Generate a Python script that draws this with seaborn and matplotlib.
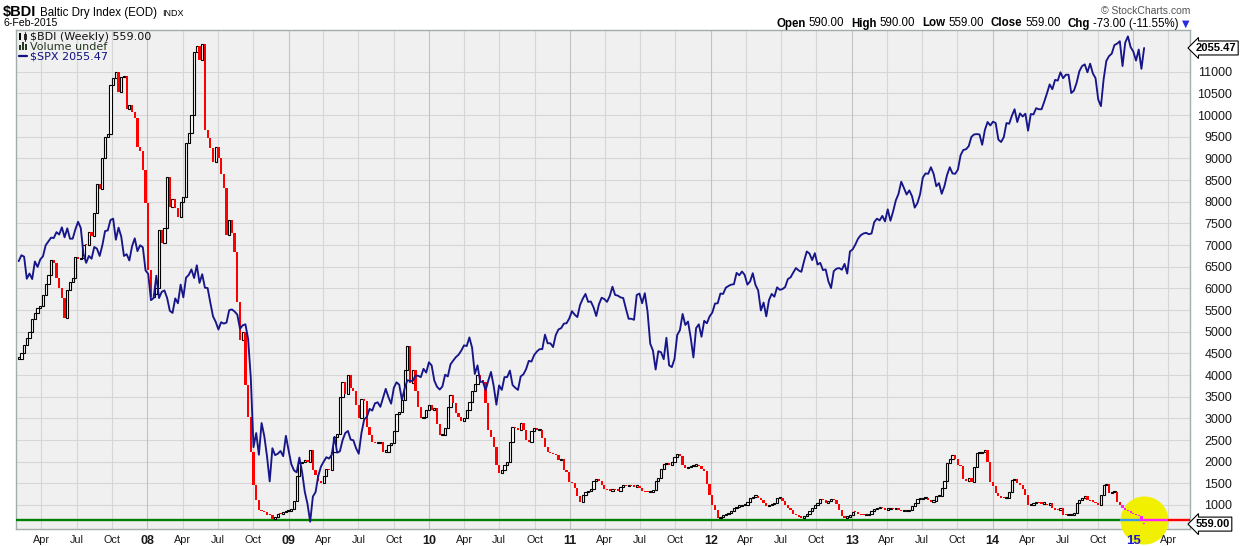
import numpy as np
import pandas as pd
import matplotlib
matplotlib.use("Agg")
import matplotlib.pyplot as plt
import matplotlib.dates as mdates
import matplotlib.transforms as mtransforms
from matplotlib.patches import Rectangle
from matplotlib.lines import Line2D
import seaborn as sns

# ---------------- data (weekly closes, week ending Friday) ----------------
first_week = "2007-02-09"

bdi_2007 = [4380, 4500, 4700, 4850, 5000, 5300, 5420, 5550, 5600, 5850,
            6100, 6300, 6650, 6580, 6230, 6000, 5770, 5310, 5960, 6150,
            6250, 6730, 6680, 6700, 7000, 6990, 7300, 7200, 7730, 8400,
            8300, 9000, 9500, 9570, 10700, 10850, 11000, 10540, 10880, 10900,
            10150, 10230, 10080, 9920, 9270, 9180, 8730]
bdi_2008 = [7960, 6420, 5810, 5870, 6000, 7350, 7040, 7400, 8580, 7880,
            8060, 7850, 7650, 8000, 8100, 9350, 9580, 10000, 11460, 11600,
            11270, 11650, 9650, 9460, 9230, 8920, 9270, 9000, 8650, 8310,
            7230, 7580, 7270, 6850, 5690, 4810, 5000, 3770, 3040, 2230,
            1460, 1120, 890, 850, 830, 770, 760, 670, 720, 800,
            790, 830]
bdi_2009 = [850, 870, 900, 1100, 1660, 1960, 2000, 2040, 2000, 2280,
            1810, 1700, 1550, 1500, 1660, 1840, 1800, 2230, 2580, 2650,
            3500, 3850, 3560, 4000, 3700, 3620, 3300, 3000, 3450, 3390,
            2810, 2620, 2460, 2420, 2420, 2450, 2230, 2230, 2380, 2430,
            2700, 3100, 3150, 3420, 4120, 4660, 3810, 4120, 3620, 3270,
            3000, 3040]
bdi_2010 = [3190, 3310, 3200, 3230, 2880, 2620, 2620, 2770, 3270, 3540,
            3350, 3120, 3040, 2950, 3000, 3190, 3380, 3620, 3800, 4000,
            3880, 3850, 3350, 2730, 2580, 2350, 1930, 1730, 1800, 1930,
            2000, 2460, 2800, 2780, 2720, 2900, 2730, 2500, 2460, 2700,
            2770, 2730, 2740, 2540, 2350, 2230, 2190, 2180, 2150, 2040,
            2050, 1810, 1770]
bdi_2011 = [1540, 1500, 1390, 1200, 1080, 1230, 1300, 1330, 1380, 1560,
            1580, 1560, 1470, 1380, 1340, 1330, 1360, 1350, 1330, 1420,
            1450, 1430, 1440, 1430, 1420, 1440, 1390, 1330, 1300, 1290,
            1290, 1340, 1560, 1620, 1830, 1950, 1960, 1920, 2000, 2100,
            2170, 2120, 1930, 1850, 1880, 1900, 1910, 1930, 1890, 1830,
            1780, 1480]
bdi_2012 = [1220, 1000, 880, 690, 720, 760, 790, 810, 850, 920,
            960, 980, 1000, 1000, 1080, 1150, 1190, 1200, 1170, 1120,
            1040, 980, 990, 1020, 1040, 1150, 1160, 1090, 1010, 930,
            880, 790, 760, 730, 710, 740, 790, 870, 930, 1000,
            1050, 1140, 1110, 1040, 1100, 1130, 1110, 1020, 880, 740,
            710, 730]
bdi_2013 = [770, 840, 830, 800, 770, 760, 770, 800, 850, 900,
            930, 960, 920, 890, 910, 920, 900, 900, 890, 850,
            850, 860, 890, 980, 1050, 1130, 1140, 1150, 1150, 1120,
            1080, 1100, 1200, 1200, 1390, 1550, 1960, 2070, 2150, 2050,
            1930, 1900, 1600, 1550, 1620, 1540, 1880, 2190, 2200, 2230,
            2280, 2000]
bdi_2014 = [1540, 1440, 1280, 1210, 1160, 1150, 1160, 1300, 1580, 1600,
            1500, 1460, 1380, 1230, 1000, 1010, 1040, 1060, 1040, 1030,
            1030, 1000, 1040, 940, 890, 880, 920, 780, 770, 770,
            770, 810, 1040, 1120, 1160, 1200, 1120, 1090, 1080, 1040,
            1000, 1230, 1460, 1480, 1280, 1290, 1300, 1080, 1000, 930,
            880, 850]
bdi_2015 = [810, 790, 760, 740, 632, 559]

spx_2007 = [1438, 1455, 1451, 1387, 1402, 1386, 1437, 1421, 1443, 1452,
            1484, 1495, 1506, 1505, 1522, 1515, 1536, 1507, 1533, 1503,
            1503, 1530, 1552, 1534, 1459, 1433, 1453, 1445, 1479, 1474,
            1453, 1484, 1525, 1527, 1557, 1561, 1500, 1535, 1509, 1453,
            1458, 1440, 1481, 1504, 1467, 1484, 1478]
spx_2008 = [1411, 1401, 1325, 1331, 1396, 1331, 1349, 1353, 1331, 1294,
            1288, 1330, 1316, 1370, 1333, 1390, 1398, 1414, 1389, 1426,
            1375, 1400, 1361, 1360, 1318, 1278, 1262, 1240, 1261, 1257,
            1260, 1296, 1298, 1292, 1283, 1242, 1252, 1255, 1213, 1099,
            899, 940, 877, 969, 931, 873, 800, 896, 876, 880,
            888, 873]
spx_2009 = [932, 890, 850, 832, 826, 869, 827, 770, 735, 683,
            756, 769, 816, 843, 857, 870, 866, 877, 929, 883,
            887, 919, 940, 946, 921, 919, 896, 880, 940, 979,
            987, 1010, 1005, 1026, 1029, 1016, 1042, 1068, 1044, 1025,
            1071, 1087, 1080, 1036, 1069, 1093, 1091, 1091, 1106, 1106,
            1102, 1126]
spx_2010 = [1115, 1145, 1136, 1092, 1074, 1066, 1075, 1109, 1104, 1139,
            1150, 1160, 1167, 1179, 1194, 1192, 1217, 1187, 1111, 1136,
            1088, 1089, 1064, 1092, 1117, 1076, 1022, 1078, 1065, 1102,
            1102, 1121, 1079, 1071, 1065, 1104, 1110, 1125, 1149, 1147,
            1166, 1176, 1183, 1183, 1225, 1200, 1200, 1189, 1224, 1240,
            1244, 1257, 1258]
spx_2011 = [1272, 1293, 1283, 1276, 1311, 1329, 1343, 1320, 1321, 1304,
            1279, 1313, 1332, 1328, 1320, 1337, 1364, 1340, 1338, 1333,
            1331, 1300, 1271, 1271, 1268, 1340, 1344, 1316, 1345, 1292,
            1199, 1179, 1124, 1177, 1174, 1154, 1216, 1136, 1131, 1155,
            1224, 1238, 1285, 1253, 1263, 1216, 1159, 1244, 1255, 1219,
            1265, 1258]
spx_2012 = [1278, 1289, 1315, 1316, 1344, 1343, 1361, 1366, 1370, 1371,
            1404, 1397, 1408, 1398, 1370, 1379, 1403, 1369, 1353, 1295,
            1318, 1278, 1325, 1343, 1335, 1362, 1355, 1357, 1363, 1386,
            1391, 1405, 1418, 1411, 1407, 1438, 1466, 1460, 1441, 1461,
            1428, 1433, 1412, 1414, 1380, 1360, 1409, 1416, 1418, 1413,
            1430, 1402]
spx_2013 = [1466, 1472, 1486, 1503, 1513, 1518, 1520, 1516, 1518, 1551,
            1561, 1556, 1569, 1553, 1588, 1555, 1582, 1614, 1633, 1668,
            1650, 1631, 1643, 1626, 1593, 1606, 1632, 1680, 1692, 1691,
            1710, 1691, 1655, 1664, 1633, 1655, 1688, 1710, 1692, 1691,
            1703, 1745, 1760, 1762, 1771, 1798, 1805, 1806, 1805, 1775,
            1818, 1841]
spx_2014 = [1831, 1842, 1838, 1790, 1783, 1797, 1838, 1836, 1859, 1878,
            1841, 1866, 1857, 1865, 1816, 1864, 1863, 1881, 1878, 1878,
            1900, 1924, 1950, 1936, 1963, 1961, 1985, 1968, 1978, 1978,
            1925, 1932, 1955, 1988, 2003, 2008, 1985, 2010, 1982, 1968,
            1906, 1887, 1965, 2018, 2032, 2039, 2064, 2068, 2075, 2003,
            2071, 2089]
spx_2015 = [2058, 2045, 2019, 2051, 1995, 2055.47]

last_open, last_high, last_low = 590.00, 590.00, 559.00
low_2008 = 663
quarter_starts = pd.date_range("2007-04-01", "2015-04-01", freq="QS")

# ---------------- build series ----------------
bdi = np.array(bdi_2007 + bdi_2008 + bdi_2009 + bdi_2010 + bdi_2011 +
               bdi_2012 + bdi_2013 + bdi_2014 + bdi_2015, dtype=float)
spx = np.array(spx_2007 + spx_2008 + spx_2009 + spx_2010 + spx_2011 +
               spx_2012 + spx_2013 + spx_2014 + spx_2015, dtype=float)
dates = pd.date_range(first_week, periods=len(bdi), freq="W-FRI")
# chart software draws each weekly bar a little before its Friday date
xnum = mdates.date2num(dates.to_pydatetime()) - 8.0
opens = np.r_[bdi[0], bdi[:-1]]
opens[-1] = last_open
chg = bdi[-1] - bdi[-2]
chg_pct = chg / bdi[-2] * 100

# ---------------- figure ----------------
sns.set_style("white")
plt.rcParams["font.family"] = ["Liberation Sans", "DejaVu Sans"]

W, H = 1240, 546
L, R, T, B = 16, 1190, 29.5, 529
fig = plt.figure(figsize=(W / 100, H / 100), dpi=100, facecolor="white")
ax = fig.add_axes([L / W, 1 - B / H, (R - L) / W, (B - T) / H])
ax.set_facecolor("#f0f0f0")
ax.set_axisbelow(False)

xl = mdates.date2num(pd.Timestamp("2007-01-25"))
xr = mdates.date2num(pd.Timestamp("2015-05-28"))
ax.set_xlim(xl, xr)
ax.set_ylim(446, 11974)
px_per_day = (R - L) / (xr - xl)

# grid (drawn manually so the highlight circle can cover it)
yticks = np.arange(1000, 11001, 500)
for yv in yticks:
    ax.axhline(yv, color="#d6d6d6", lw=0.8, zorder=0.5)
qnum = mdates.date2num(quarter_starts.to_pydatetime())
for q, d in zip(qnum, quarter_starts):
    ax.axvline(q, color="#c2c2c2" if d.month == 1 else "#d6d6d6", lw=0.8, zorder=0.5)

# highlight circle around the latest bar
r_px = 24
r_days = r_px / px_per_day
xc = xnum[-1]
ax.scatter([xc], [low_2008], s=(2 * r_px * 0.72) ** 2, color="#f0f000",
           linewidths=0, zorder=1.6, clip_on=False)

# candles
inside = np.abs(xnum - xc) < r_days
up = bdi >= opens
bottom = np.minimum(opens, bdi)
height = np.maximum(np.abs(bdi - opens), 30)
wid = 5.8
m = up & ~inside
ax.bar(xnum[m], height[m], bottom=bottom[m], width=wid, facecolor="white",
       edgecolor="black", linewidth=0.8, zorder=3)
m = ~up & ~inside
ax.bar(xnum[m], height[m], bottom=bottom[m], width=wid, color="#ff0000",
       linewidth=0, zorder=3)
ax.bar(xnum[inside], height[inside], bottom=bottom[inside], width=wid,
       color="#ff20ff", linewidth=0, zorder=3)

# horizontal level lines
ax.hlines(low_2008, xl, xc - r_days, color="#008000", lw=1.7, zorder=2.6)
ax.hlines(low_2008, xc - r_days, xc, color="#3d96ee", lw=1.7, zorder=2.6)
ax.hlines(low_2008, xc, xc + r_days, color="#ff20ff", lw=1.7, zorder=2.6)
ax.hlines(low_2008, xc + r_days, xr, color="#ff0000", lw=1.7, zorder=2.6)

# SPX overlay on its own (hidden) scale
ax2 = ax.twinx()
sns.lineplot(x=xnum, y=spx, ax=ax2, color="#16168a", linewidth=1.35)
ax2.set_ylim(662, 2109)
ax2.set_xlim(xl, xr)
ax2.set_yticks([])
ax2.set_ylabel("")
ax2.set_xlabel("")
for s in ax2.spines.values():
    s.set_visible(False)

# axes styling
for s in ax.spines.values():
    s.set_color("#a3aea8")
    s.set_linewidth(1.0)
    s.set_zorder(1.5)

ax.yaxis.tick_right()
ax.set_yticks(yticks)
ax.set_yticklabels([f"{int(v)}" for v in yticks])
ax.tick_params(axis="y", length=0, pad=30.5, labelsize=9, labelcolor="#1a1a1a")
for lab in ax.get_yticklabels():
    lab.set_ha("right")

xlabels = [f"{d.year % 100:02d}" if d.month == 1 else d.strftime("%b") for d in quarter_starts]
ax.set_xticks(qnum)
ax.set_xticklabels(xlabels)
ax.tick_params(axis="x", length=2.5, width=0.8, color="#8a8a8a", pad=1.5,
               labelsize=7.8, labelcolor="#1a1a1a")
for lab, d in zip(ax.get_xticklabels(), quarter_starts):
    if d.month == 1:
        lab.set_fontweight("bold")
        lab.set_fontsize(9)
        if d.year == 2015:
            lab.set_color("#1c1cd2")
            lab.set_fontsize(9.5)
ax.set_xlabel("")
ax.set_ylabel("")

# right-edge value boxes
box = dict(boxstyle="larrow,pad=0.18", fc="white", ec="black", lw=0.8)
trans = mtransforms.blended_transform_factory(ax.transAxes, ax.transData)
ax.annotate(f"{bdi[-1]:.2f}", xy=(1.0, bdi[-1]), xycoords=trans, xytext=(4, 0),
            textcoords="offset points", ha="left", va="center", fontsize=8,
            fontweight="bold", color="black", annotation_clip=False, zorder=6,
            bbox=box)
trans2 = mtransforms.blended_transform_factory(ax2.transAxes, ax2.transData)
ax2.annotate(f"{spx[-1]:.2f}", xy=(1.0, spx[-1]), xycoords=trans2, xytext=(4, 0),
             textcoords="offset points", ha="left", va="center", fontsize=8,
             fontweight="bold", color="black", annotation_clip=False, zorder=6,
             bbox=box)

# ---------------- header / legend text ----------------
renderer = fig.canvas.get_renderer()


def draw_runs(parts, y, x_left=None, x_right=None):
    texts, widths = [], []
    for s, kw, gap in parts:
        t = fig.text(0, 1 - y / H, s, va="baseline", ha="left", **kw)
        w = t.get_window_extent(renderer=renderer).width
        texts.append(t)
        widths.append(w + gap)
    x = x_left if x_left is not None else x_right - sum(widths)
    for t, w in zip(texts, widths):
        t.set_x(x / W)
        x += w


draw_runs([("$BDI", dict(fontsize=10.5, fontweight="bold", color="black"), 4),
           ("Baltic Dry Index (EOD)", dict(fontsize=8.3, color="black"), 5),
           ("INDX", dict(fontsize=6.5, color="black"), 0)], y=16, x_left=3)
fig.text(3 / W, 1 - 26.5 / H, dates[-1].strftime("%-d-%b-%Y"), fontsize=7.6,
         color="black", va="baseline", ha="left")
fig.text(1190 / W, 1 - 14 / H, "\u00a9 StockCharts.com", fontsize=7.5,
         color="#555555", va="baseline", ha="right")

bold = dict(fontsize=8.3, fontweight="bold", color="black")
norm = dict(fontsize=8.3, color="black")
draw_runs([("Open", bold, 3), (f"{last_open:.2f}", norm, 7),
           ("High", bold, 3), (f"{last_high:.2f}", norm, 7),
           ("Low", bold, 3), (f"{last_low:.2f}", norm, 7),
           ("Close", bold, 3), (f"{bdi[-1]:.2f}", norm, 7),
           ("Chg", bold, 3), (f"{chg:.2f} ({chg_pct:.2f}%)", norm, 3),
           ("\u25bc", dict(fontsize=7, color="#2a2ae0", family=["DejaVu Sans"]), 0)],
          y=26.5, x_right=1189)

leg = dict(fontsize=8, family=["DejaVu Sans"], va="baseline", ha="left")
fig.text(30 / W, 1 - 40 / H, f"$BDI (Weekly) {bdi[-1]:.2f}", color="#111111", **leg)
fig.text(30 / W, 1 - 49.5 / H, "Volume undef", color="#26381f", **leg)
fig.text(30 / W, 1 - 59 / H, f"$SPX {spx[-1]:.2f}", color="#101080", **leg)


def rect_px(x0, y0, x1, y1, **kw):
    fig.add_artist(Rectangle((x0 / W, 1 - y1 / H), (x1 - x0) / W, (y1 - y0) / H,
                             transform=fig.transFigure, **kw))


# tiny legend icons
rect_px(19, 33, 21, 40, facecolor="black", edgecolor="none")
rect_px(23.5, 34, 26, 39, facecolor="white", edgecolor="black", linewidth=0.6)
fig.add_artist(Line2D([24.75 / W, 24.75 / W], [1 - 32 / H, 1 - 41 / H],
                      transform=fig.transFigure, color="black", lw=0.6))
for i, hh in enumerate([5, 8, 6]):
    rect_px(19 + i * 3, 50 - hh, 21 + i * 3, 50, facecolor="#26381f", edgecolor="none")
fig.add_artist(Line2D([19 / W, 27 / W], [1 - 55.5 / H, 1 - 55.5 / H],
                      transform=fig.transFigure, color="#101080", lw=1.6))

fig.savefig("out.png", dpi=100, facecolor="white")
